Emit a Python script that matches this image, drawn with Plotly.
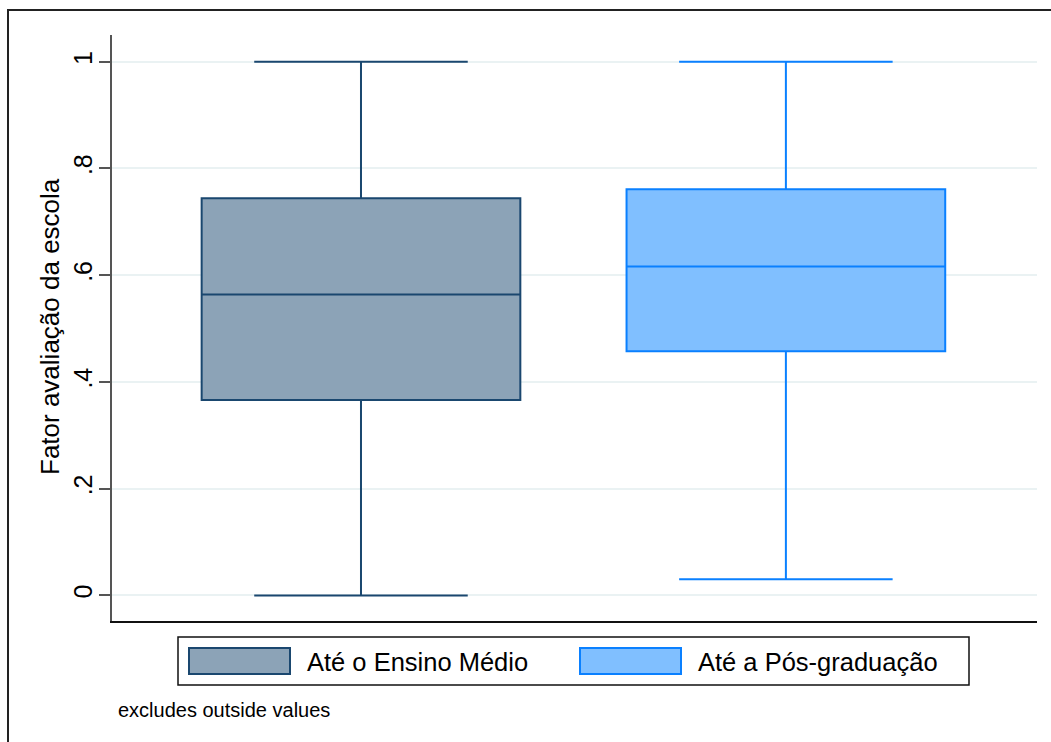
import plotly.graph_objects as go

# Box-plot summary statistics for the school evaluation factor
groups = ["Até o Ensino Médio", "Até a Pós-graduação"]
lower_whisker = [0.0, 0.030]
q1_values = [0.366, 0.4575]
median_values = [0.564, 0.616]
q3_values = [0.744, 0.761]
upper_whisker = [1.0, 1.0]

line_colors = ["#1A476F", "#0A80FF"]
fill_colors = ["#8CA3B7", "#80BFFF"]

y_ticks = [0, 0.2, 0.4, 0.6, 0.8, 1.0]
y_tick_text = ["0", ".2", ".4", ".6", ".8", "1"]

FONT = "Liberation Sans, Arial, Helvetica, sans-serif"
W, H = 1051, 742
L, R, T, B = 112, 14, 35, 121

fig = go.Figure()
for i, name in enumerate(groups):
    fig.add_trace(go.Box(
        x=[i],
        q1=[q1_values[i]],
        median=[median_values[i]],
        q3=[q3_values[i]],
        lowerfence=[lower_whisker[i]],
        upperfence=[upper_whisker[i]],
        name=name,
        width=0.75,
        whiskerwidth=0.67,
        boxpoints=False,
        fillcolor=fill_colors[i],
        line=dict(color=line_colors[i], width=2),
        showlegend=False,
    ))

plot_w = W - L - R
plot_h = H - T - B


def px_x(px):
    return (px - L) / plot_w


def px_y(py):
    return (H - B - py) / plot_h


shapes = []
annotations = []

# Outer graph-region frame
shapes.append(dict(type="rect", xref="paper", yref="paper",
                   x0=px_x(8), x1=px_x(W + 20), y0=px_y(H + 20), y1=px_y(10),
                   line=dict(color="#222222", width=2), fillcolor="rgba(0,0,0,0)",
                   layer="below"))

# Legend frame
shapes.append(dict(type="rect", xref="paper", yref="paper",
                   x0=px_x(178), x1=px_x(969), y0=px_y(685), y1=px_y(637),
                   line=dict(color="#111111", width=1.5), fillcolor="white"))

swatch_x = [(189, 290), (580, 681)]
text_x = [305, 696]
for i, name in enumerate(groups):
    sx0, sx1 = swatch_x[i]
    shapes.append(dict(type="rect", xref="paper", yref="paper",
                       x0=px_x(sx0), x1=px_x(sx1), y0=px_y(674), y1=px_y(648),
                       line=dict(color=line_colors[i], width=2),
                       fillcolor=fill_colors[i]))
    annotations.append(dict(xref="paper", yref="paper", x=px_x(text_x[i]), y=px_y(662),
                            xanchor="left", yanchor="middle", showarrow=False,
                            text=name, font=dict(family=FONT, size=25.5, color="black")))

annotations.append(dict(xref="paper", yref="paper", x=px_x(116), y=px_y(710),
                        xanchor="left", yanchor="middle", showarrow=False,
                        text="excludes outside values",
                        font=dict(family=FONT, size=20, color="black")))

# Rotated y-axis title
annotations.append(dict(xref="paper", yref="paper", x=px_x(50), y=px_y(327),
                        xanchor="center", yanchor="middle", showarrow=False,
                        textangle=-90, text="Fator avaliação da escola",
                        font=dict(family=FONT, size=26, color="black")))

fig.update_layout(
    width=W, height=H,
    margin=dict(l=L, r=R, t=T, b=B, pad=0),
    paper_bgcolor="white",
    plot_bgcolor="white",
    font=dict(family=FONT, color="black"),
    shapes=shapes,
    annotations=annotations,
    showlegend=False,
)

fig.update_xaxes(
    range=[-0.586, 1.591],
    showticklabels=False,
    ticks="",
    showgrid=False,
    zeroline=False,
    showline=True,
    linecolor="#111111",
    linewidth=2,
)

fig.update_yaxes(
    range=[-0.048, 1.050],
    tickvals=y_ticks,
    ticktext=y_tick_text,
    tickangle=-90,
    tickfont=dict(family=FONT, size=25, color="black"),
    ticks="outside",
    ticklen=11,
    tickwidth=1.5,
    tickcolor="#555555",
    ticklabelstandoff=-3,
    showgrid=True,
    gridcolor="#EAF2F3",
    gridwidth=2,
    zeroline=False,
    showline=True,
    linecolor="#555555",
    linewidth=1.5,
    automargin=False,
)

fig.write_html("out.html")
